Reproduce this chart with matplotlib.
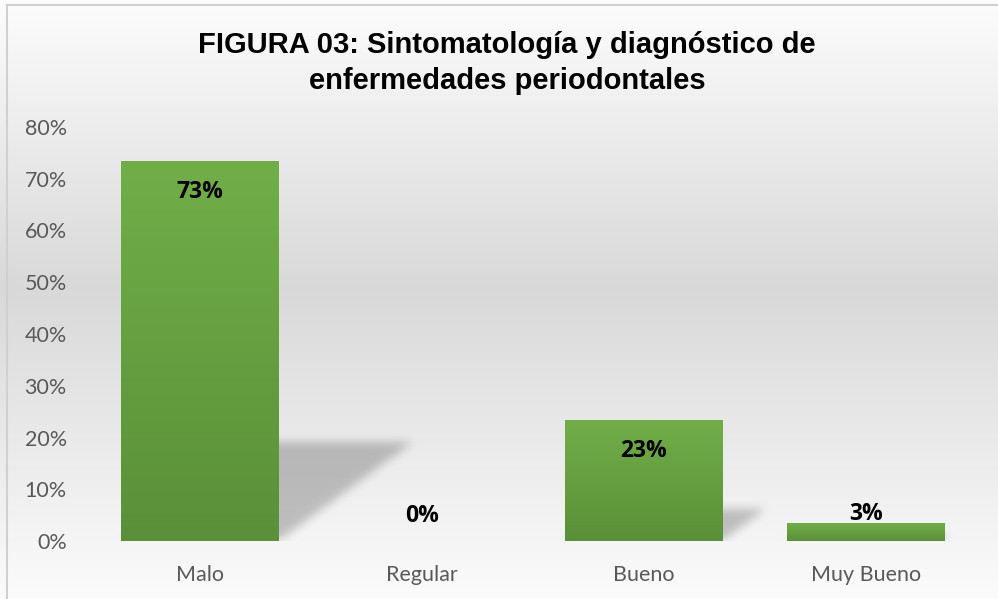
import numpy as np
import matplotlib
matplotlib.use("Agg")
import matplotlib.pyplot as plt
from matplotlib.lines import Line2D

# datos
categorias = ["Malo", "Regular", "Bueno", "Muy Bueno"]
valores = [0.7333, 0.0, 0.2333, 0.0333]
etiquetas = ["73%", "0%", "23%", "3%"]
yticks = [0.0, 0.1, 0.2, 0.3, 0.4, 0.5, 0.6, 0.7, 0.8]
titulo = "FIGURA 03: Sintomatología y diagnóstico de\nenfermedades periodontales"

W, H = 998, 599
fig = plt.figure(figsize=(W / 100, H / 100), dpi=100)

# fondo degradado (blanco - gris - blanco)
bg = fig.add_axes([0, 0, 1, 1], zorder=-10)
t = np.linspace(0, 1, 400)
g = np.interp(t, [0, 0.48, 1], [0.99, 0.85, 0.985])
bg.imshow(np.stack([g, g, g], axis=-1)[:, None, :].repeat(2, axis=1), aspect="auto",
          extent=[0, 1, 0, 1], origin="upper")
bg.set_xlim(0, 1)
bg.set_ylim(0, 1)
bg.axis("off")

# borde del grafico
fig.add_artist(Line2D([7 / W, 7 / W], [0, 1 - 5 / H], color="#d0d0d0", lw=1.5))
fig.add_artist(Line2D([7 / W, 1], [1 - 5 / H, 1 - 5 / H], color="#d0d0d0", lw=1.5))

ax = fig.add_axes([89 / W, 58 / H, 888 / W, 414 / H])
ax.patch.set_alpha(0)
x = np.arange(len(categorias))
ancho = 0.71

# sombras en perspectiva (mascara + desenfoque)
nx, ny = 888, 414
xs = np.linspace(-0.5, 3.5, nx)
ys = np.linspace(0, 0.8, ny)
XX, YY = np.meshgrid(xs, ys)
mask = np.zeros((ny, nx))
k, s = 0.82, 0.26
for xi, v in zip(x, valores):
    if v <= 0:
        continue
    x0, x1 = xi - ancho / 2, xi + ancho / 2
    xx = XX - (k / s) * YY
    m = (YY <= s * v) & (xx >= x0) & (xx <= x1)
    mask[m] = 1.0

def blur(a, r):
    ker = np.ones(2 * r + 1) / (2 * r + 1)
    for _ in range(3):
        a = np.apply_along_axis(lambda c: np.convolve(c, ker, mode="same"), 0, a)
        a = np.apply_along_axis(lambda c: np.convolve(c, ker, mode="same"), 1, a)
    return a

mask = blur(mask, 4)
sombra = np.zeros((ny, nx, 4))
sombra[..., 3] = mask * 0.22
ax.imshow(sombra, extent=[-0.5, 3.5, 0, 0.8], origin="lower", aspect="auto", zorder=1)

# barras con degradado
c_top = np.array([0.443, 0.682, 0.282])
c_bot = np.array([0.353, 0.565, 0.224])
for xi, v in zip(x, valores):
    if v <= 0:
        continue
    f = np.linspace(0, 1, 100)[:, None]
    grad = c_bot + (c_top - c_bot) * f
    ax.imshow(grad[:, None, :].repeat(2, axis=1), extent=[xi - ancho / 2, xi + ancho / 2, 0, v],
              origin="lower", aspect="auto", zorder=2)
ax.set_xlim(-0.5, 3.5)
ax.set_ylim(0, 0.8)

# etiquetas de datos
for xi, v, et in zip(x, valores, etiquetas):
    if v >= 0.1:
        ax.annotate(et, (xi, v), xytext=(0, -22), textcoords="offset points",
                    ha="center", va="center", fontsize=16.5, fontweight="bold",
                    family="Open Sans", color="black", zorder=3)
    else:
        ax.annotate(et, (xi, max(v, 0.03)), xytext=(0, 7), textcoords="offset points",
                    ha="center", va="center", fontsize=16.5, fontweight="bold",
                    family="Open Sans", color="black", zorder=3)

ax.set_xticks(x)
ax.set_xticklabels(categorias)
ax.set_yticks(yticks)
ax.set_yticklabels(["%d%%" % round(v * 100) for v in yticks])
ax.tick_params(length=0, labelsize=15.5, labelcolor="#595959")
ax.tick_params(axis="y", pad=16)
ax.tick_params(axis="x", pad=17)
for lab in ax.get_xticklabels() + ax.get_yticklabels():
    lab.set_family("Lato")
for sp in ax.spines.values():
    sp.set_visible(False)

fig.text(0.508, 1 - 63 / H, titulo, ha="center", va="center", fontsize=21,
         fontweight="bold", family="Liberation Sans", linespacing=1.32)

fig.savefig("out.png", dpi=100)
